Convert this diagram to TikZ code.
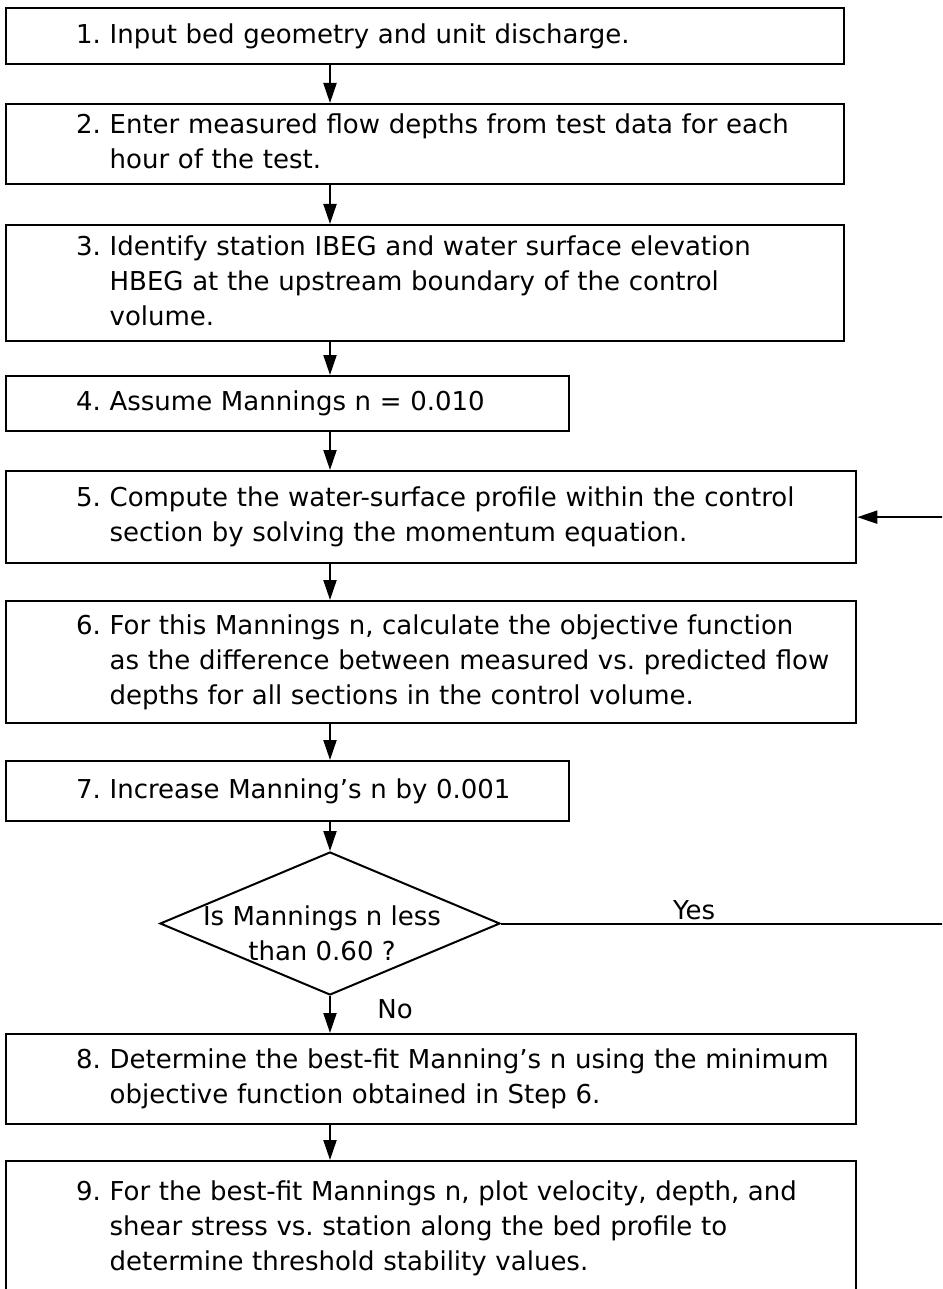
\documentclass[tikz,border=0pt]{standalone}
\usepackage{fontspec}
\setmainfont{DejaVu Sans}
\usetikzlibrary{shapes.geometric,arrows.meta,calc}

\frenchspacing
\newcommand{\steptext}[2]{\noindent\hspace*{70pt}\begin{tabular}{@{}l@{}l@{}}#1~ & \begin{tabular}[t]{@{}l@{}}#2\end{tabular}\end{tabular}}
\newcommand{\zerobox}[1]{\makebox[0pt]{\raisebox{-19pt}[0pt][0pt]{\begin{tabular}{@{}c@{}}#1\end{tabular}}\hspace{16pt}}}

\begin{document}
\begin{tikzpicture}[x=1pt,y=-1pt,
    font=\fontsize{26}{35}\selectfont,
    box/.style={draw, line width=2.3pt, inner xsep=0pt, inner ysep=0pt, anchor=north west, align=left},
    arr/.style={line width=2pt, -{Triangle[length=20pt,width=13pt]}}]

    \clip (0,0) rectangle (942,1289);

    % steps
    \node[box, text width=838pt, minimum height=56pt] at (5,7) (b1)
        {\steptext{1.}{Input bed geometry and unit discharge.}};
    \node[box, text width=838pt, minimum height=80pt] at (5,103) (b2)
        {\steptext{2.}{Enter measured flow depths from test data for each\\hour of the test.}};
    \node[box, text width=838pt, minimum height=116pt] at (5,224) (b3)
        {\steptext{3.}{Identify station IBEG and water surface elevation\\HBEG at the upstream boundary of the control\\volume.}};
    \node[box, text width=563pt, minimum height=55pt] at (5,375) (b4)
        {\steptext{4.}{Assume Mannings n = 0.010}};
    \node[box, text width=850pt, minimum height=92pt] at (5,470) (b5)
        {\steptext{5.}{Compute the water-surface profile within the control\\section by solving the momentum equation.}};
    \node[box, text width=850pt, minimum height=122pt] at (5,600) (b6)
        {\steptext{6.}{For this Mannings n, calculate the objective function\\as the difference between measured vs. predicted flow\\depths for all sections in the control volume.}};
    \node[box, text width=563pt, minimum height=60pt] at (5,760) (b7)
        {\steptext{7.}{Increase Manning's n by 0.001}};
    \node[draw, diamond, line width=2pt, minimum width=340pt, minimum height=143pt, inner sep=0pt] at (330,923.5) (dia)
        {\zerobox{Is Mannings n less\\than 0.60 ?}};
    \node[box, text width=850pt, minimum height=90pt] at (5,1033) (b8)
        {\steptext{8.}{Determine the best-fit Manning's n using the minimum\\objective function obtained in Step 6.}};
    \node[box, text width=850pt, minimum height=134pt] at (5,1160) (b9)
        {\steptext{9.}{For the best-fit Mannings n, plot velocity, depth, and\\shear stress vs. station along the bed profile to\\determine threshold stability values.}};

    % connections
    \foreach \a/\b in {b1/b2,b2/b3,b3/b4,b4/b5,b5/b6,b6/b7,b7/dia,dia/b8,b8/b9}
        \draw[arr] (\a.south -| dia) -- (\b.north -| dia);
    \node at (395,1009) (no) {No};
    \coordinate (turn) at (950,923.5);
    \draw[arr] (dia.east) -- node[above, pos=0.43, inner sep=3pt] (yes) {Yes} (turn) |- (b5.east);
\end{tikzpicture}
\end{document}
